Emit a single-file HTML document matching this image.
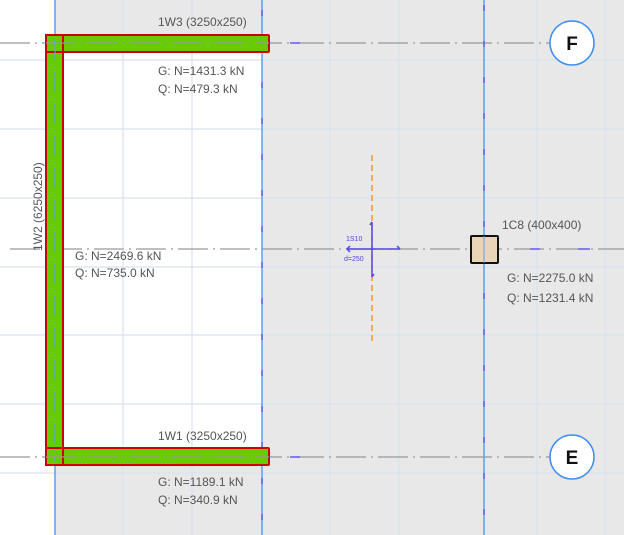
<!DOCTYPE html>
<html><head><style>html,body{margin:0;padding:0;background:#fff}svg{display:block}text{font-family:"Liberation Sans",sans-serif;fill:#555;font-size:12px}</style></head><body>
<svg width="624" height="535" viewBox="0 0 624 535" xmlns="http://www.w3.org/2000/svg">
<rect x="0" y="0" width="624" height="535" fill="#e8e8e8"/>
<rect x="0" y="0" width="55" height="535" fill="#fff"/>
<rect x="55" y="37" width="207" height="428" fill="#fff"/>
<g stroke="#dae1ee" stroke-width="1.2">
<line x1="123" y1="0" x2="123" y2="535"/><line x1="192" y1="0" x2="192" y2="535"/>
<line x1="330" y1="0" x2="330" y2="535"/><line x1="399" y1="0" x2="399" y2="535"/>
<line x1="537" y1="0" x2="537" y2="535"/><line x1="605" y1="0" x2="605" y2="535"/>
<line x1="0" y1="60" x2="624" y2="60"/><line x1="0" y1="129" x2="624" y2="129"/>
<line x1="0" y1="198" x2="624" y2="198"/><line x1="0" y1="267" x2="624" y2="267"/>
<line x1="0" y1="335" x2="624" y2="335"/><line x1="0" y1="404" x2="624" y2="404"/>
<line x1="0" y1="473" x2="624" y2="473"/>
</g>
<g stroke="#999" stroke-width="1.3" stroke-dasharray="30,5,2,5">
<line x1="0" y1="43" x2="550" y2="43"/><line x1="0" y1="457" x2="550" y2="457"/><line x1="10" y1="249" x2="624" y2="249"/>
</g>
<g stroke="#5aa0ee" stroke-width="1.5">
<line x1="55" y1="0" x2="55" y2="535"/><line x1="262" y1="0" x2="262" y2="535"/><line x1="484" y1="0" x2="484" y2="535"/>
</g>
<g stroke="#6a5cf0" stroke-width="1.5" stroke-dasharray="6,30">
<line x1="262" y1="10" x2="262" y2="535"/><line x1="484" y1="5" x2="484" y2="535"/>
</g>
<g stroke="#6a5cf0" stroke-width="1.5">
<line x1="290" y1="43" x2="300" y2="43"/><line x1="290" y1="457" x2="300" y2="457"/>
<line x1="530" y1="249" x2="540" y2="249"/><line x1="578" y1="249" x2="590" y2="249"/>
</g>
<rect x="46" y="35" width="223" height="17" fill="#66cc00" stroke="#cc0000" stroke-width="2" rx="1"/>
<rect x="46" y="448" width="223" height="17" fill="#66cc00" stroke="#cc0000" stroke-width="2" rx="1"/>
<rect x="46" y="35" width="17" height="430" fill="#66cc00" stroke="#cc0000" stroke-width="2"/>
<g stroke="#cc0000" stroke-width="2"><line x1="46" y1="52" x2="63" y2="52"/><line x1="63" y1="35" x2="63" y2="52"/><line x1="46" y1="448" x2="63" y2="448"/><line x1="63" y1="448" x2="63" y2="465"/></g>
<line x1="55" y1="40" x2="55" y2="462" stroke="#5aa0ee" stroke-width="1.2" stroke-dasharray="20,5,2,5"/>
<g stroke="#999" stroke-width="1.3" stroke-dasharray="30,5,2,5"><line x1="46" y1="43" x2="269" y2="43"/><line x1="46" y1="457" x2="269" y2="457"/></g>
<line x1="372" y1="155" x2="372" y2="345" stroke="#f39a2a" stroke-width="1.5" stroke-dasharray="6,4"/>
<g stroke="#5544ee" stroke-width="1.5" fill="none">
<line x1="347" y1="249" x2="400" y2="249"/><line x1="372" y1="222" x2="372" y2="277"/>
<path d="M350,246 L347,249 L350,252"/><path d="M397,246 L400,249"/><path d="M370,225 L372,222"/><path d="M372,277 L374,274"/>
</g>
<text x="346" y="241" style="font-size:7px;fill:#5544ee">1S10</text>
<text x="344" y="261" style="font-size:7px;fill:#5544ee">d=250</text>
<rect x="471" y="236" width="27" height="27" fill="#e9d4b8" stroke="#111" stroke-width="2" rx="1"/>
<line x1="484" y1="236" x2="484" y2="263" stroke="#5aa0ee" stroke-width="1"/>
<circle cx="572" cy="43" r="22" fill="#fff" stroke="#3f8ef0" stroke-width="1.5"/>
<circle cx="572" cy="457" r="22" fill="#fff" stroke="#3f8ef0" stroke-width="1.5"/>
<text x="572" y="50" text-anchor="middle" style="font-size:19px;font-weight:bold;fill:#111">F</text>
<text x="572" y="464" text-anchor="middle" style="font-size:19px;font-weight:bold;fill:#111">E</text>
<text x="158" y="26">1W3 (3250x250)</text>
<text x="158" y="75">G: N=1431.3 kN</text>
<text x="158" y="93">Q: N=479.3 kN</text>
<text x="158" y="440">1W1 (3250x250)</text>
<text x="158" y="486">G: N=1189.1 kN</text>
<text x="158" y="504">Q: N=340.9 kN</text>
<text x="75" y="260">G: N=2469.6 kN</text>
<text x="75" y="277">Q: N=735.0 kN</text>
<text x="502" y="229">1C8 (400x400)</text>
<text x="507" y="282">G: N=2275.0 kN</text>
<text x="507" y="302">Q: N=1231.4 kN</text>
<text transform="translate(42,251) rotate(-90)">1W2 (6250x250)</text>
</svg>
</body></html>
